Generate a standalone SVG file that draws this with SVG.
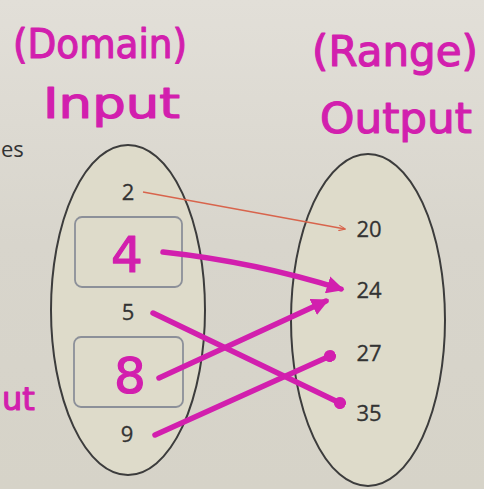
<svg xmlns="http://www.w3.org/2000/svg" width="484" height="489" viewBox="0 0 484 489">
<style>
.ell{fill:#dedbca;stroke:#3c3c3c;stroke-width:2}
.box{fill:none;stroke:#8c9099;stroke-width:1.8}
.num{font-family:"Open Sans","DejaVu Sans",sans-serif;font-size:22px;fill:#333;text-anchor:middle;stroke:#333;stroke-width:0.3}
.hw{font-family:"DejaVu Sans",sans-serif;fill:#d21fae;stroke:#d21fae;stroke-width:1.2;stroke-linejoin:round}
.mag{fill:none;stroke:#d21fae;stroke-width:5.5;stroke-linecap:round}
.thin{fill:none;stroke:#d8644c;stroke-width:1.3}
</style>
<defs>
<linearGradient id="bg" x1="0" y1="0" x2="0" y2="1">
<stop offset="0" stop-color="#e2dfd8"/>
<stop offset="0.5" stop-color="#d8d5cc"/>
<stop offset="1" stop-color="#d6d3c8"/>
</linearGradient>
<marker id="tri" viewBox="0 0 10 10" refX="8" refY="5" markerWidth="3.2" markerHeight="3.2" orient="auto" markerUnits="strokeWidth">
<path d="M0,0 L10,5 L0,10 z" fill="#d21fae"/>
</marker>
<marker id="dot" viewBox="0 0 10 10" refX="5" refY="5" markerWidth="2.2" markerHeight="2.2" orient="auto" markerUnits="strokeWidth">
<circle cx="5" cy="5" r="5" fill="#d21fae"/>
</marker>
<marker id="thinarr" viewBox="0 0 10 10" refX="9" refY="5" markerWidth="7" markerHeight="7" orient="auto" markerUnits="userSpaceOnUse">
<path d="M0,1 L10,5 L0,9" fill="none" stroke="#d8644c" stroke-width="1.5"/>
</marker>
</defs>
<rect width="484" height="489" fill="url(#bg)"/>
<g id="labels">
<text class="hw" x="13" y="58" font-size="40" textLength="174" lengthAdjust="spacingAndGlyphs">(Domain)</text>
<text class="hw" x="43" y="118" font-size="42" textLength="137" lengthAdjust="spacingAndGlyphs">Input</text>
<text class="hw" x="312" y="66" font-size="42">(Range)</text>
<text class="hw" x="320" y="133" font-size="42" textLength="152" lengthAdjust="spacingAndGlyphs">Output</text>
<text x="1" y="157" font-family="Open Sans, DejaVu Sans, sans-serif" font-size="22" fill="#333">es</text>
<text class="hw" x="2" y="410" font-size="32">ut</text>
</g>
<g id="domain">
<ellipse class="ell" cx="128" cy="310" rx="77" ry="165"/>
</g>
<g id="range">
<ellipse class="ell" cx="368" cy="320" rx="77" ry="166"/>
</g>
<g id="node-2"><text class="num" x="128" y="200">2</text></g>
<g id="node-4">
<rect class="box" x="75" y="217" width="107" height="70" rx="7"/>
<text class="hw" x="127" y="272" font-size="50" text-anchor="middle">4</text>
</g>
<g id="node-5"><text class="num" x="128" y="320">5</text></g>
<g id="node-8">
<rect class="box" x="74" y="337" width="109" height="70" rx="7"/>
<text class="hw" x="130" y="393" font-size="50" text-anchor="middle">8</text>
</g>
<g id="node-9"><text class="num" x="127" y="442">9</text></g>
<g id="node-20"><text class="num" x="369" y="237">20</text></g>
<g id="node-24"><text class="num" x="369" y="298">24</text></g>
<g id="node-27"><text class="num" x="369" y="361">27</text></g>
<g id="node-35"><text class="num" x="369" y="421">35</text></g>
<g id="connectors">
<line class="thin" x1="143" y1="192" x2="345" y2="229" marker-end="url(#thinarr)"/>
<path class="mag" d="M163,252 Q255,262 341,289" marker-end="url(#tri)"/>
<path class="mag" d="M159,378 L326,301" marker-end="url(#tri)"/>
<path class="mag" d="M153,313 L340,403" marker-end="url(#dot)"/>
<path class="mag" d="M155,435 L330,356" marker-end="url(#dot)"/>
</g>
</svg>
